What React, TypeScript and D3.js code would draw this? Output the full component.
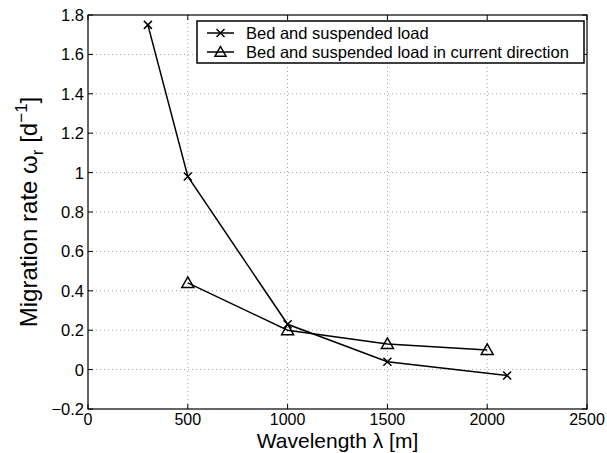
import React from "react";
import * as d3 from "d3";

const seriesAName = "Bed and suspended load";
const seriesAX = [300, 500, 1000, 1500, 2100];
const seriesAY = [1.75, 0.98, 0.23, 0.04, -0.03];

const seriesBName = "Bed and suspended load in current direction";
const seriesBX = [500, 1000, 1500, 2000];
const seriesBY = [0.44, 0.2, 0.13, 0.1];

const xTicks = [0, 500, 1000, 1500, 2000, 2500];
const yTicks = [-0.2, 0, 0.2, 0.4, 0.6, 0.8, 1, 1.2, 1.4, 1.6, 1.8];

const W = 607;
const H = 453;
const M = { left: 88, right: 587, top: 15, bottom: 409 };
const FONT = "'Liberation Sans', Arial, Helvetica, sans-serif";

function fmtY(v: number) {
  const s = d3.format("~g")(Math.round(v * 10) / 10);
  return s.replace("-", "\u2212");
}

export default function App() {
  const x = d3.scaleLinear().domain([0, 2500]).range([M.left, M.right]);
  const y = d3.scaleLinear().domain([-0.2, 1.8]).range([M.bottom, M.top]);
  const line = d3
    .line<[number, number]>()
    .x((d) => x(d[0]))
    .y((d) => y(d[1]));
  const ptsA: [number, number][] = seriesAX.map((v, i) => [v, seriesAY[i]]);
  const ptsB: [number, number][] = seriesBX.map((v, i) => [v, seriesBY[i]]);

  const cross = (cx: number, cy: number, s = 4, key?: any) => (
    <path
      key={key}
      d={`M${cx - s},${cy - s}L${cx + s},${cy + s}M${cx - s},${cy + s}L${cx + s},${cy - s}`}
      stroke="#000"
      strokeWidth={1.5}
      fill="none"
    />
  );
  const tri = (cx: number, cy: number, s = 6, key?: any) => (
    <path
      key={key}
      d={`M${cx},${cy - s}L${cx + s},${cy + s * 0.75}L${cx - s},${cy + s * 0.75}Z`}
      stroke="#000"
      strokeWidth={1.5}
      fill="none"
    />
  );

  const tickLen = 5;
  const legX = 197;
  const legY = 21;
  const legW = 387;
  const legH = 42;

  return (
    <svg width={W} height={H} style={{ position: "absolute", left: 0, top: 0 }} fontFamily={FONT}>
      <rect x={0} y={0} width={W} height={H} fill="#fff" />
      {/* grid */}
      {xTicks.slice(1, -1).map((t) => (
        <line key={"gx" + t} x1={x(t)} x2={x(t)} y1={M.top} y2={M.bottom} stroke="#000" strokeWidth={0.6} strokeDasharray="1,3" opacity={0.6} />
      ))}
      {yTicks.slice(1, -1).map((t) => (
        <line key={"gy" + t} x1={M.left} x2={M.right} y1={y(t)} y2={y(t)} stroke="#000" strokeWidth={0.6} strokeDasharray="1,3" opacity={0.6} />
      ))}
      {/* ticks */}
      {xTicks.map((t) => (
        <g key={"tx" + t}>
          <line x1={x(t)} x2={x(t)} y1={M.bottom} y2={M.bottom - tickLen} stroke="#000" />
          <line x1={x(t)} x2={x(t)} y1={M.top} y2={M.top + tickLen} stroke="#000" />
          <text x={x(t)} y={M.bottom + 16} textAnchor="middle" fontSize={16}>
            {t}
          </text>
        </g>
      ))}
      {yTicks.map((t) => (
        <g key={"ty" + t}>
          <line x1={M.left} x2={M.left + tickLen} y1={y(t)} y2={y(t)} stroke="#000" />
          <line x1={M.right} x2={M.right - tickLen} y1={y(t)} y2={y(t)} stroke="#000" />
          <text x={M.left - 4} y={y(t) + 6} textAnchor="end" fontSize={16.5}>
            {fmtY(t)}
          </text>
        </g>
      ))}
      <rect x={M.left} y={M.top} width={M.right - M.left} height={M.bottom - M.top} fill="none" stroke="#000" strokeWidth={1.2} />
      {/* series */}
      <path d={line(ptsA) || ""} stroke="#000" strokeWidth={1.5} fill="none" />
      {ptsA.map((p, i) => cross(x(p[0]), y(p[1]), 4, "a" + i))}
      <path d={line(ptsB) || ""} stroke="#000" strokeWidth={1.5} fill="none" />
      {ptsB.map((p, i) => tri(x(p[0]), y(p[1]), 6, "b" + i))}
      {/* legend */}
      <rect x={legX} y={legY} width={legW} height={legH} fill="#fff" stroke="#000" strokeWidth={1.5} />
      <line x1={legX + 10} x2={legX + 37} y1={legY + 12} y2={legY + 12} stroke="#000" strokeWidth={1.5} />
      {cross(legX + 23.5, legY + 12, 4)}
      <text x={legX + 49} y={legY + 17.5} fontSize={16.5}>
        {seriesAName}
      </text>
      <line x1={legX + 10} x2={legX + 37} y1={legY + 31} y2={legY + 31} stroke="#000" strokeWidth={1.5} />
      {tri(legX + 23.5, legY + 31, 5.5)}
      <text x={legX + 49} y={legY + 36.5} fontSize={16.5}>
        {seriesBName}
      </text>
      {/* axis labels */}
      <text x={(M.left + M.right) / 2} y={448} textAnchor="middle" fontSize={21}>
        Wavelength λ [m]
      </text>
      <text transform={`translate(37,${(M.top + M.bottom) / 2}) rotate(-90)`} textAnchor="middle" fontSize={24}>
        Migration rate ω
        <tspan fontSize={17} dy={6}>r</tspan>
        <tspan dy={-6}> [d</tspan>
        <tspan fontSize={17} dy={-10}>−1</tspan>
        <tspan dy={10}>]</tspan>
      </text>
    </svg>
  );
}
